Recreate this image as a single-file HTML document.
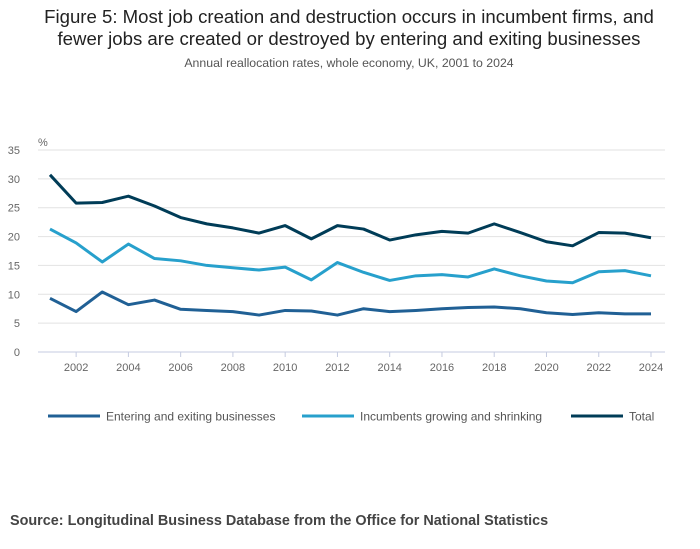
<!DOCTYPE html>
<html><head><meta charset="utf-8"><style>
body{margin:0;background:#fff;font-family:"Liberation Sans",sans-serif;}
#wrap{position:relative;width:700px;height:549px;overflow:hidden;}
.t{position:absolute;left:0;width:698px;text-align:center;color:#222;}
</style></head><body>
<div id="wrap">
<div class="t" style="top:6px;font-size:18.6px;line-height:22px;">Figure 5: Most job creation and destruction occurs in incumbent firms, and<br>fewer jobs are created or destroyed by entering and exiting businesses</div>
<div class="t" style="top:56px;font-size:12.3px;color:#555;">Annual reallocation rates, whole economy, UK, 2001 to 2024</div>
<svg id="chart" width="700" height="549" style="position:absolute;left:0;top:0"></svg>
<div style="position:absolute;left:10px;top:513px;font-size:14.4px;font-weight:bold;color:#444;">Source: Longitudinal Business Database from the Office for National Statistics</div>
</div>
<script>
const years=[2001,2002,2003,2004,2005,2006,2007,2008,2009,2010,2011,2012,2013,2014,2015,2016,2017,2018,2019,2020,2021,2022,2023,2024];
const entering=[9.3,7.0,10.4,8.2,9.0,7.4,7.2,7.0,6.4,7.2,7.1,6.4,7.5,7.0,7.2,7.5,7.7,7.8,7.5,6.8,6.5,6.8,6.6,6.6];
const incumbents=[21.3,18.9,15.6,18.7,16.2,15.8,15.0,14.6,14.2,14.7,12.5,15.5,13.8,12.4,13.2,13.4,13.0,14.4,13.2,12.3,12.0,13.9,14.1,13.2];
const total=[30.7,25.8,25.9,27.0,25.3,23.3,22.2,21.5,20.6,21.9,19.6,21.9,21.3,19.4,20.3,20.9,20.6,22.2,20.7,19.1,18.4,20.7,20.6,19.8];
const yTicks=[0,5,10,15,20,25,30,35];
const xTicks=[2002,2004,2006,2008,2010,2012,2014,2016,2018,2020,2022,2024];
const seriesNames=["Entering and exiting businesses","Incumbents growing and shrinking","Total"];
const NS="http://www.w3.org/2000/svg";
const svg=document.getElementById('chart');
const x=v=>50+(v-2001)*(651-50)/23;
const y=v=>352-v*(352-150)/35;
function mk(t,a){const e=document.createElementNS(NS,t);for(const k in a)e.setAttribute(k,a[k]);svg.appendChild(e);return e;}
yTicks.forEach(v=>{
  const l=mk('line',{x1:38,x2:665,y1:y(v),y2:y(v),stroke:v===0?'#c5cbe0':'#e2e2e2','stroke-width':1});
  
  
  const t=mk('text',{x:20,y:y(v)+4,'font-size':11,fill:'#666','text-anchor':'end'});
  t.textContent=v;
  
  
});
const u=mk('text',{x:38,y:146,'font-size':11,fill:'#666'});u.textContent='%';


xTicks.forEach(v=>{
  const l=mk('line',{x1:x(v),x2:x(v),y1:352,y2:357,stroke:'#c5cbe0'});
  
  
  const t=mk('text',{x:x(v),y:371,'font-size':11,fill:'#666','text-anchor':'middle'});
  t.textContent=v;
  
  
});
const cols=['#206095','#27a0cc','#003c57'];
const names=['entering-exiting-line','incumbents-line','total-line'];
[entering,incumbents,total].forEach((s,i)=>{
  const p=mk('polyline',{points:s.map((v,j)=>x(years[j])+','+y(v)).join(' '),fill:'none',stroke:cols[i],'stroke-width':3,'stroke-linejoin':'round'});
  
  
});
const lx=[48,302,571];
seriesNames.forEach((n,i)=>{
  const l=mk('line',{x1:lx[i],x2:lx[i]+52,y1:416,y2:416,stroke:cols[i],'stroke-width':3});
  
  
  const t=mk('text',{x:lx[i]+58,y:420.5,'font-size':12,fill:'#555'});
  t.textContent=n;
  
  
});
</script>
</body></html>
